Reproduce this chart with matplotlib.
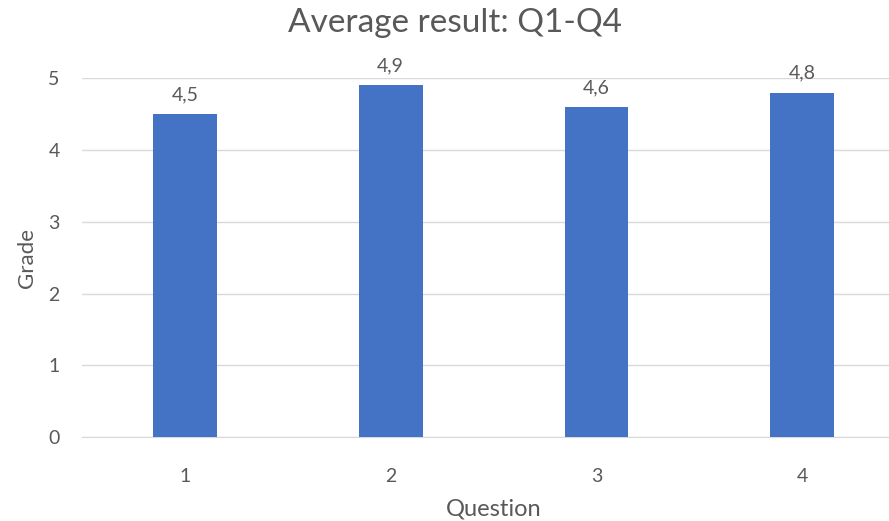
import matplotlib.pyplot as plt

# ── Données ───────────────────────────────────────────────────────────────────
questions = ["1", "2", "3", "4"]
grades    = [4.5, 4.9, 4.6, 4.8]

BAR_COLOR  = "#4472C4"
TEXT_COLOR = "#595959"
GRID_COLOR = "#D9D9D9"

plt.rcParams["font.family"] = ["Lato", "DejaVu Sans"]

fig = plt.figure(figsize=(8.89, 5.21), dpi=100)
ax = fig.add_axes([0.0922, 0.161, 0.926, 0.689])

x = range(len(questions))
bars = ax.bar(x, grades, width=0.31, color=BAR_COLOR, zorder=3)

for bar, val in zip(bars, grades):
    ax.text(bar.get_x() + bar.get_width() / 2, val + 0.15,
            f"{val:.1f}".replace(".", ","), ha="center", va="bottom",
            fontsize=14, color=TEXT_COLOR)

ax.set_xlim(-0.5, len(questions) - 0.5)
ax.set_ylim(0, 5)
ax.set_yticks(range(0, 6))
ax.set_xticks(list(x))
ax.set_xticklabels(questions)
ax.grid(True, axis="y", color=GRID_COLOR, linewidth=1, zorder=0)
for side in ["top", "right", "left"]:
    ax.spines[side].set_visible(False)
ax.spines["bottom"].set_color(GRID_COLOR)
ax.tick_params(axis="both", length=0, labelsize=14, labelcolor=TEXT_COLOR)
ax.tick_params(axis="x", pad=22)
ax.tick_params(axis="y", pad=16)

ax.set_ylabel("Grade", fontsize=16, color=TEXT_COLOR, labelpad=8)
ax.set_xlabel("Question", fontsize=17, color=TEXT_COLOR, labelpad=10)
fig.text(0.512, 0.955, "Average result: Q1-Q4", ha="center", va="center",
         fontsize=24, color=TEXT_COLOR)

fig.savefig("out.png", dpi=100)
